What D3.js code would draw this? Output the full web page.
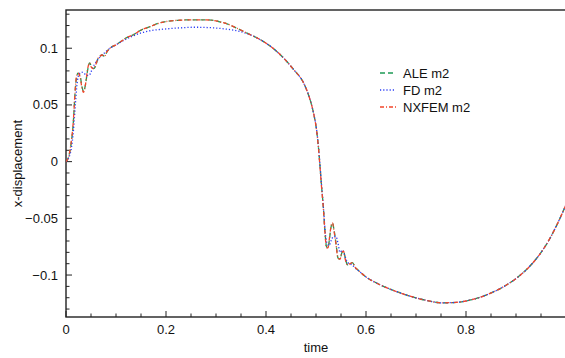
<!DOCTYPE html>
<html><head><meta charset="utf-8">
<script src="https://cdn.jsdelivr.net/npm/d3@7"></script>
<style>body{margin:0;background:#fff}svg{display:block}text{font-family:"Liberation Sans",Arial,sans-serif;fill:#111}</style>
</head><body>
<svg id="c" width="565" height="358"></svg>
<script>
const xTicks = [0, 0.2, 0.4, 0.6, 0.8];
const yTicks = [-0.1, -0.05, 0, 0.05, 0.1];
const seriesNames = ["ALE m2", "FD m2", "NXFEM m2"];

const tALE = [0,0.005,0.010,0.015,0.018,0.021,0.024,0.028,0.032,0.035,0.039,0.043,0.047,0.051,0.055,0.059,0.064,0.068,0.072,0.077,0.082,0.088,0.10,0.11,0.12,0.135,0.15,0.168,0.185,0.20,0.22,0.25,0.28,0.295,0.31,0.321,0.34,0.361,0.388,0.421,0.455,0.475,0.488,0.495,0.501,0.505,0.508,0.511,0.515,0.518,0.521,0.524,0.527,0.530,0.533,0.536,0.540,0.544,0.548,0.552,0.555,0.559,0.563,0.568,0.573,0.578,0.585,0.601,0.62,0.635,0.661,0.695,0.72,0.751,0.78,0.80,0.828,0.86,0.88,0.90,0.92,0.94,0.955,0.97,0.985,1.0];
const vALE = [0,0.004,0.015,0.037,0.060,0.074,0.078,0.076,0.066,0.062,0.068,0.080,0.087,0.084,0.082,0.084,0.091,0.093,0.094,0.093,0.097,0.100,0.103,0.106,0.109,0.112,0.116,0.119,0.122,0.1235,0.1245,0.125,0.125,0.1245,0.123,0.1217,0.118,0.1135,0.1077,0.0974,0.0813,0.0695,0.0548,0.043,0.028,0.012,-0.004,-0.021,-0.042,-0.062,-0.075,-0.076,-0.068,-0.058,-0.054,-0.060,-0.072,-0.085,-0.086,-0.080,-0.079,-0.086,-0.091,-0.090,-0.089,-0.093,-0.096,-0.102,-0.1068,-0.110,-0.1146,-0.1195,-0.1223,-0.1245,-0.1241,-0.1229,-0.1196,-0.1138,-0.109,-0.1031,-0.0956,-0.086,-0.077,-0.066,-0.0528,-0.038];
const vNXFEM = [0,0.004,0.016,0.038,0.061,0.075,0.078,0.075,0.065,0.061,0.068,0.081,0.087,0.083,0.082,0.085,0.091,0.093,0.094,0.093,0.097,0.100,0.103,0.106,0.109,0.112,0.116,0.119,0.122,0.1235,0.1245,0.125,0.125,0.1245,0.123,0.1217,0.118,0.1135,0.1077,0.0974,0.0813,0.0695,0.0548,0.043,0.028,0.012,-0.005,-0.022,-0.043,-0.063,-0.076,-0.076,-0.067,-0.057,-0.054,-0.061,-0.073,-0.085,-0.086,-0.080,-0.079,-0.087,-0.091,-0.090,-0.089,-0.093,-0.096,-0.102,-0.1068,-0.110,-0.1146,-0.1195,-0.1223,-0.1245,-0.1241,-0.1229,-0.1196,-0.1138,-0.109,-0.1031,-0.0956,-0.086,-0.077,-0.066,-0.0528,-0.038];

const tFD = [0,0.005,0.010,0.015,0.019,0.022,0.026,0.031,0.036,0.041,0.046,0.051,0.056,0.062,0.068,0.075,0.085,0.10,0.12,0.135,0.15,0.17,0.20,0.23,0.255,0.28,0.30,0.321,0.34,0.361,0.388,0.421,0.455,0.475,0.488,0.495,0.501,0.505,0.508,0.511,0.515,0.518,0.522,0.526,0.530,0.535,0.540,0.544,0.548,0.553,0.557,0.561,0.566,0.572,0.581,0.59,0.601,0.62,0.635,0.661,0.695,0.72,0.751,0.78,0.80,0.828,0.86,0.88,0.90,0.92,0.94,0.955,0.97,0.985,1.0];
const vFD = [0,0.003,0.010,0.028,0.052,0.068,0.077,0.079,0.078,0.076,0.076,0.080,0.085,0.089,0.092,0.095,0.099,0.103,0.108,0.111,0.1135,0.1155,0.117,0.118,0.1185,0.1183,0.1178,0.1168,0.1155,0.1130,0.1077,0.0974,0.0813,0.0695,0.0548,0.043,0.029,0.013,-0.003,-0.020,-0.041,-0.060,-0.072,-0.074,-0.070,-0.066,-0.066,-0.072,-0.080,-0.078,-0.082,-0.087,-0.090,-0.091,-0.095,-0.098,-0.102,-0.1068,-0.110,-0.1146,-0.1195,-0.1223,-0.1245,-0.1241,-0.1229,-0.1196,-0.1138,-0.109,-0.1031,-0.0956,-0.086,-0.077,-0.066,-0.0528,-0.038];

const svg = d3.select("#c");
const L = 66, R = 566, T = 10, B = 317;
const x = d3.scaleLinear().domain([0, 1]).range([L, R]);
const y = d3.scaleLinear().domain([-0.137, 0.1337]).range([B, T]);

// frame
svg.append("rect").attr("x", L).attr("y", T).attr("width", R - L).attr("height", B - T)
  .attr("fill", "none").attr("stroke", "#222").attr("stroke-width", 1.4);

// x axis ticks (inward)
const xMinor = d3.range(0, 1.0001, 0.05);
svg.append("g").selectAll("line").data(xMinor).join("line")
  .attr("x1", d => x(d)).attr("x2", d => x(d))
  .attr("y1", B).attr("y2", d => xTicks.some(t => Math.abs(t - d) < 1e-9) ? B - 6 : B - 3.5)
  .attr("stroke", "#222").attr("stroke-width", 1);
svg.append("g").selectAll("text").data(xTicks).join("text")
  .attr("x", d => x(d)).attr("y", 334).attr("text-anchor", "middle")
  .attr("font-size", 13).text(d => d3.format("~g")(d));

// y axis ticks
const yMinor = d3.range(-0.13, 0.1301, 0.01).map(v => Math.round(v * 1000) / 1000);
svg.append("g").selectAll("line").data(yMinor).join("line")
  .attr("y1", d => y(d)).attr("y2", d => y(d))
  .attr("x1", L).attr("x2", d => yTicks.some(t => Math.abs(t - d) < 1e-9) ? L + 6 : L + 3.5)
  .attr("stroke", "#222").attr("stroke-width", 1);
svg.append("g").selectAll("text").data(yTicks).join("text")
  .attr("x", 58).attr("y", d => y(d) + 4.5).attr("text-anchor", "end")
  .attr("font-size", 13).text(d => d3.format("~g")(d));

// axis titles
svg.append("text").attr("x", x(0.5)).attr("y", 352).attr("text-anchor", "middle")
  .attr("font-size", 13).text("time");
svg.append("text").attr("transform", `translate(22,${(T + B) / 2}) rotate(-90)`)
  .attr("text-anchor", "middle").attr("font-size", 13).text("x-displacement");

const line = d3.line().x(d => x(d[0])).y(d => y(d[1])).curve(d3.curveMonotoneX);
const series = [
  { name: seriesNames[0], t: tALE, v: vALE, color: "#1e9a55", dash: "5,3" },
  { name: seriesNames[1], t: tFD, v: vFD, color: "#2a3cf5", dash: "1.2,2" },
  { name: seriesNames[2], t: tALE, v: vNXFEM, color: "#f2452a", dash: "4,2,1,2" }
];
svg.append("clipPath").attr("id", "pc").append("rect")
  .attr("x", L).attr("y", T).attr("width", R - L).attr("height", B - T);
series.forEach(s => {
  svg.append("path").datum(s.t.map((t, i) => [t, s.v[i]]))
    .attr("d", line).attr("fill", "none").attr("stroke", s.color)
    .attr("stroke-width", 1.3).attr("stroke-dasharray", s.dash)
    .attr("clip-path", "url(#pc)");
});

// legend
const lg = svg.append("g");
series.forEach((s, i) => {
  const yy = 73 + i * 17;
  lg.append("line").attr("x1", 380).attr("x2", 396).attr("y1", yy).attr("y2", yy)
    .attr("stroke", s.color).attr("stroke-width", 1.3).attr("stroke-dasharray", s.dash);
  lg.append("text").attr("x", 403).attr("y", yy + 4.5).attr("font-size", 13).text(s.name);
});
</script>
</body></html>
